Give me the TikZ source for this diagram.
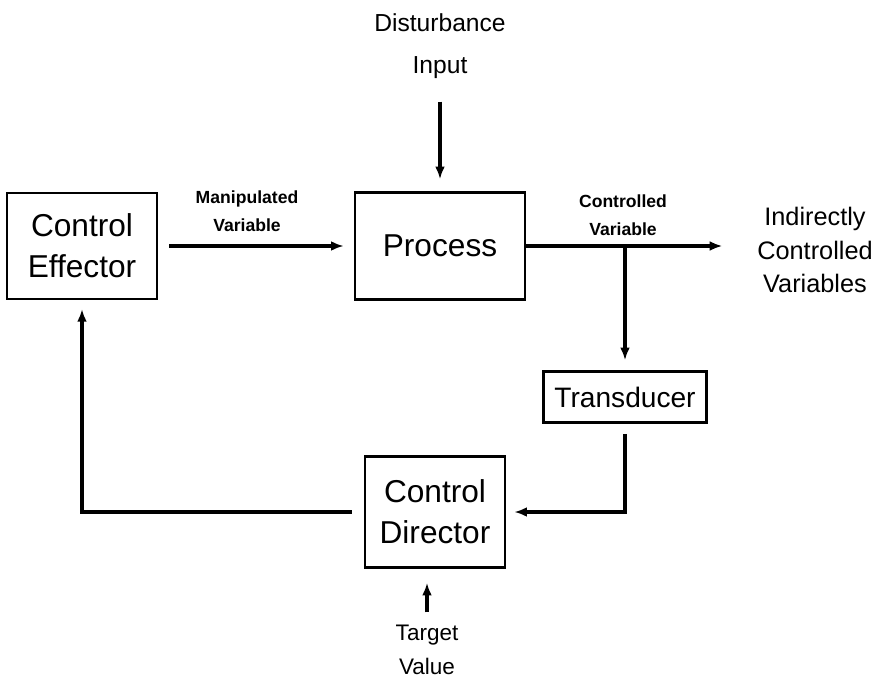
\documentclass[tikz,border=0pt]{standalone}
\usepackage{fontspec}
\setmainfont{Liberation Sans}
\usetikzlibrary{arrows.meta,
								positioning,
								calc}

\begin{document}
\begin{tikzpicture}[x=0.025cm,y=-0.025cm,
  block/.style={draw, line width=1.8pt, inner sep=0pt, align=center,
    font=\fontsize{22.5}{29}\selectfont},
  signal/.style={line width=2.7pt, -{Latex[length=9pt,width=7pt]}},
  tag/.style={align=center, font=\bfseries\fontsize{12.5}{20}\selectfont},
  outtext/.style={align=center, font=\fontsize{17.5}{30}\selectfont}]
  \useasboundingbox (0,0) rectangle (887,690);

  % blocks of the loop
  \node[block, minimum width=3.75cm, minimum height=2.65cm]  (effector)   at (82,246)  {Control\\Effector};
  \node[block, minimum width=4.25cm, minimum height=2.675cm] (process)    at (440,246) {Process};
  \node[block, minimum width=4.075cm, minimum height=1.275cm,
        font=\fontsize{20}{24}\selectfont]                  (transducer) at (625,397) {Transducer};
  \node[block, minimum width=3.5cm, minimum height=2.775cm]  (director)   at (435,512) {Control\\Director};

  % texts outside the blocks
  \node[outtext] (disturbance) at (440,46)  {Disturbance\\Input};
  \node[outtext, font=\fontsize{18}{24}\selectfont] (indirect) at (815,250) {Indirectly\\Controlled\\Variables};
  \node[outtext, font=\fontsize{16}{24}\selectfont] (target) at (427,650) {Target\\Value};
  \node[tag] (manipulated) at (247,211) {Manipulated\\Variable};
  \node[tag] (controlled)  at (623,215) {Controlled\\Variable};

  % signals
  \draw[signal, shorten <=0.45cm, shorten >=0.3cm] (disturbance) -- (process);
  \draw[signal, shorten <=0.27cm, shorten >=0.25cm] (effector) -- (process);
  \draw[signal, shorten >=0.75cm] (process) -- (indirect.west |- process.east);
  \coordinate (branch) at (transducer |- process.east);
  \draw[signal, shorten >=0.25cm] (branch) -- (transducer);
  \draw[signal, shorten <=0.25cm, shorten >=0.2cm] (transducer) |- (director);
  \draw[signal, shorten <=0.3cm, shorten >=0.22cm] (director) -| (effector);
  \draw[signal, shorten <=0.2cm, shorten >=0.35cm] (target.north) -- (target.north |- director.south);
\end{tikzpicture}
\end{document}
